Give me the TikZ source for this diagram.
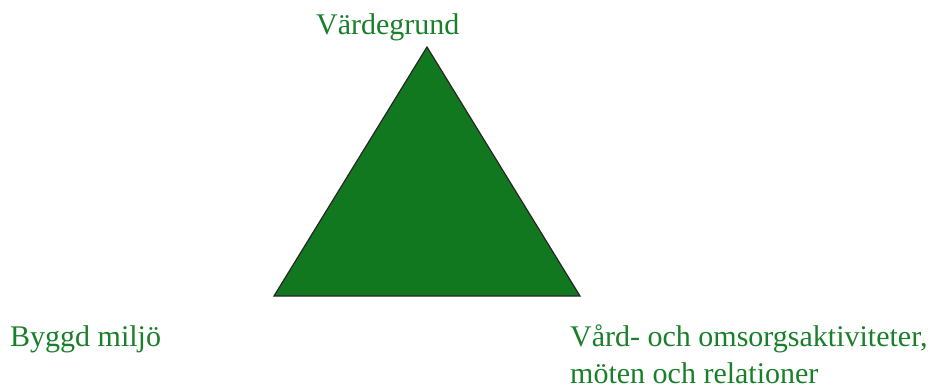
\documentclass[tikz,border=0pt]{standalone}
\usepackage{fontspec}
\setmainfont{Liberation Serif}
\definecolor{txtgreen}{HTML}{1A7F2A}
\definecolor{trifill}{HTML}{127820}
\begin{document}
\begin{tikzpicture}[x=1pt,y=-1pt,
  lbl/.style={text=txtgreen,font=\fontsize{30}{37}\selectfont,inner sep=0pt,anchor=base west}]
\useasboundingbox (0,0) rectangle (940,389);
\coordinate (top) at (427,47);
\coordinate (bl) at (274,296);
\coordinate (br) at (580,296);
\draw[fill=trifill,draw=black!85,line width=1.2pt,line join=miter] (top) -- (br) -- (bl) -- cycle;
\node[lbl] (vg) at (316,34) {Värdegrund};
\node[lbl] (bm) at (10,346.5) {Byggd miljö};
\node[lbl,align=left] (vo) at (570,383.5) {Vård- och omsorgsaktiviteter,\\möten och relationer};
\end{tikzpicture}
\end{document}
